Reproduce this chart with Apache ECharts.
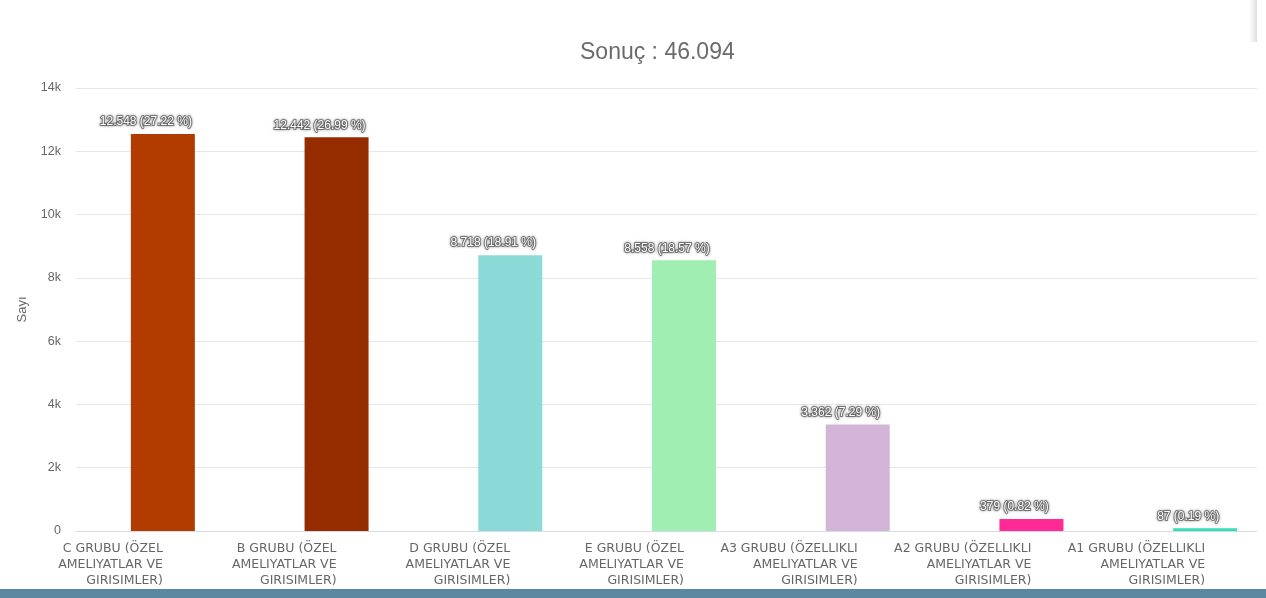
<!DOCTYPE html>
<html>
<head>
<meta charset="utf-8">
<script src="https://cdn.jsdelivr.net/npm/echarts@6/dist/echarts.min.js"></script>
<style>
html,body{margin:0;padding:0;background:#fff;overflow:hidden;width:1266px;height:598px;}
#chart{width:1292px;height:598px;}
</style>
</head>
<body>
<div id="chart"></div>
<script>
const categories = [
  'C GRUBU (ÖZEL\nAMELIYATLAR VE\nGIRISIMLER)',
  'B GRUBU (ÖZEL\nAMELIYATLAR VE\nGIRISIMLER)',
  'D GRUBU (ÖZEL\nAMELIYATLAR VE\nGIRISIMLER)',
  'E GRUBU (ÖZEL\nAMELIYATLAR VE\nGIRISIMLER)',
  'A3 GRUBU (ÖZELLIKLI\nAMELIYATLAR VE\nGIRISIMLER)',
  'A2 GRUBU (ÖZELLIKLI\nAMELIYATLAR VE\nGIRISIMLER)',
  'A1 GRUBU (ÖZELLIKLI\nAMELIYATLAR VE\nGIRISIMLER)'
];
const values = [12548, 12442, 8718, 8558, 3362, 379, 87];
const barColors = ['#B23C00', '#952C00', '#8CDAD8', '#A0EEB2', '#D3B5D7', '#FF2A95', '#33DEB6'];
const yTicks = [0, 2000, 4000, 6000, 8000, 10000, 12000, 14000];
const total = values.reduce((a, b) => a + b, 0);
const titleText = 'Sonuç : 46.094';

function trNum(n) {
  return String(n).replace(/\B(?=(\d{3})+(?!\d))/g, '.');
}

const chart = echarts.init(document.getElementById('chart'), null, {renderer: 'canvas'});
chart.setOption({
  backgroundColor: '#fff',
  animation: false,
  title: {
    text: titleText,
    left: 575,
    top: 36,
    textStyle: {fontFamily: 'Liberation Sans', fontSize: 23, fontWeight: 'normal', color: '#6b6b6b'}
  },
  grid: {left: 76, right: 0, top: 88, bottom: 67, containLabel: false},
  xAxis: {
    type: 'category',
    data: categories,
    axisLine: {lineStyle: {color: '#d5dbe4'}},
    axisTick: {show: false},
    axisLabel: {
      interval: 0,
      align: 'right',
      margin: 10,
      lineHeight: 16,
      fontFamily: 'DejaVu Sans',
      fontSize: 12.5,
      color: '#666'
    }
  },
  yAxis: {
    type: 'value',
    min: yTicks[0],
    max: yTicks[yTicks.length - 1],
    interval: 2000,
    name: 'Sayı',
    nameLocation: 'middle',
    nameGap: 47,
    nameTextStyle: {fontFamily: 'Liberation Sans', fontSize: 13, color: '#666'},
    axisLine: {show: false},
    axisTick: {show: false},
    axisLabel: {
      margin: 15,
      fontFamily: 'Liberation Sans',
      fontSize: 12.5,
      color: '#666',
      formatter: v => v === 0 ? '0' : (v / 1000) + 'k'
    },
    splitLine: {lineStyle: {color: '#e6e6e6'}}
  },
  series: [{
    type: 'bar',
    data: values.map((v, i) => ({value: v, itemStyle: {color: barColors[i]}})),
    barWidth: 64,
    label: {
      show: true,
      position: 'top',
      distance: 6,
      offset: [-17, 0],
      color: '#fff',
      fontFamily: 'Liberation Sans',
      fontSize: 12,
      textBorderColor: 'rgba(70,70,70,0.6)',
      textBorderWidth: 2,
      textShadowColor: 'rgba(0,0,0,0.45)',
      textShadowBlur: 3,
      formatter: p => trNum(p.value) + ' (' + (p.value / total * 100).toFixed(2) + ' %)'
    }
  }],
  graphic: [
    {type: 'rect', z: 100, shape: {x: 1257, y: 0, width: 40, height: 598}, style: {fill: '#fff'}},
    {type: 'rect', z: 101, shape: {x: 1248, y: 0, width: 9, height: 42},
      style: {fill: new echarts.graphic.LinearGradient(0, 0, 1, 0, [
        {offset: 0, color: 'rgba(230,230,230,0)'},
        {offset: 1, color: 'rgba(205,205,205,0.7)'}
      ])}},
    {type: 'rect', z: 100, shape: {x: 0, y: 589, width: 1292, height: 9}, style: {fill: '#5B88A0'}}
  ]
});
</script>
</body>
</html>
